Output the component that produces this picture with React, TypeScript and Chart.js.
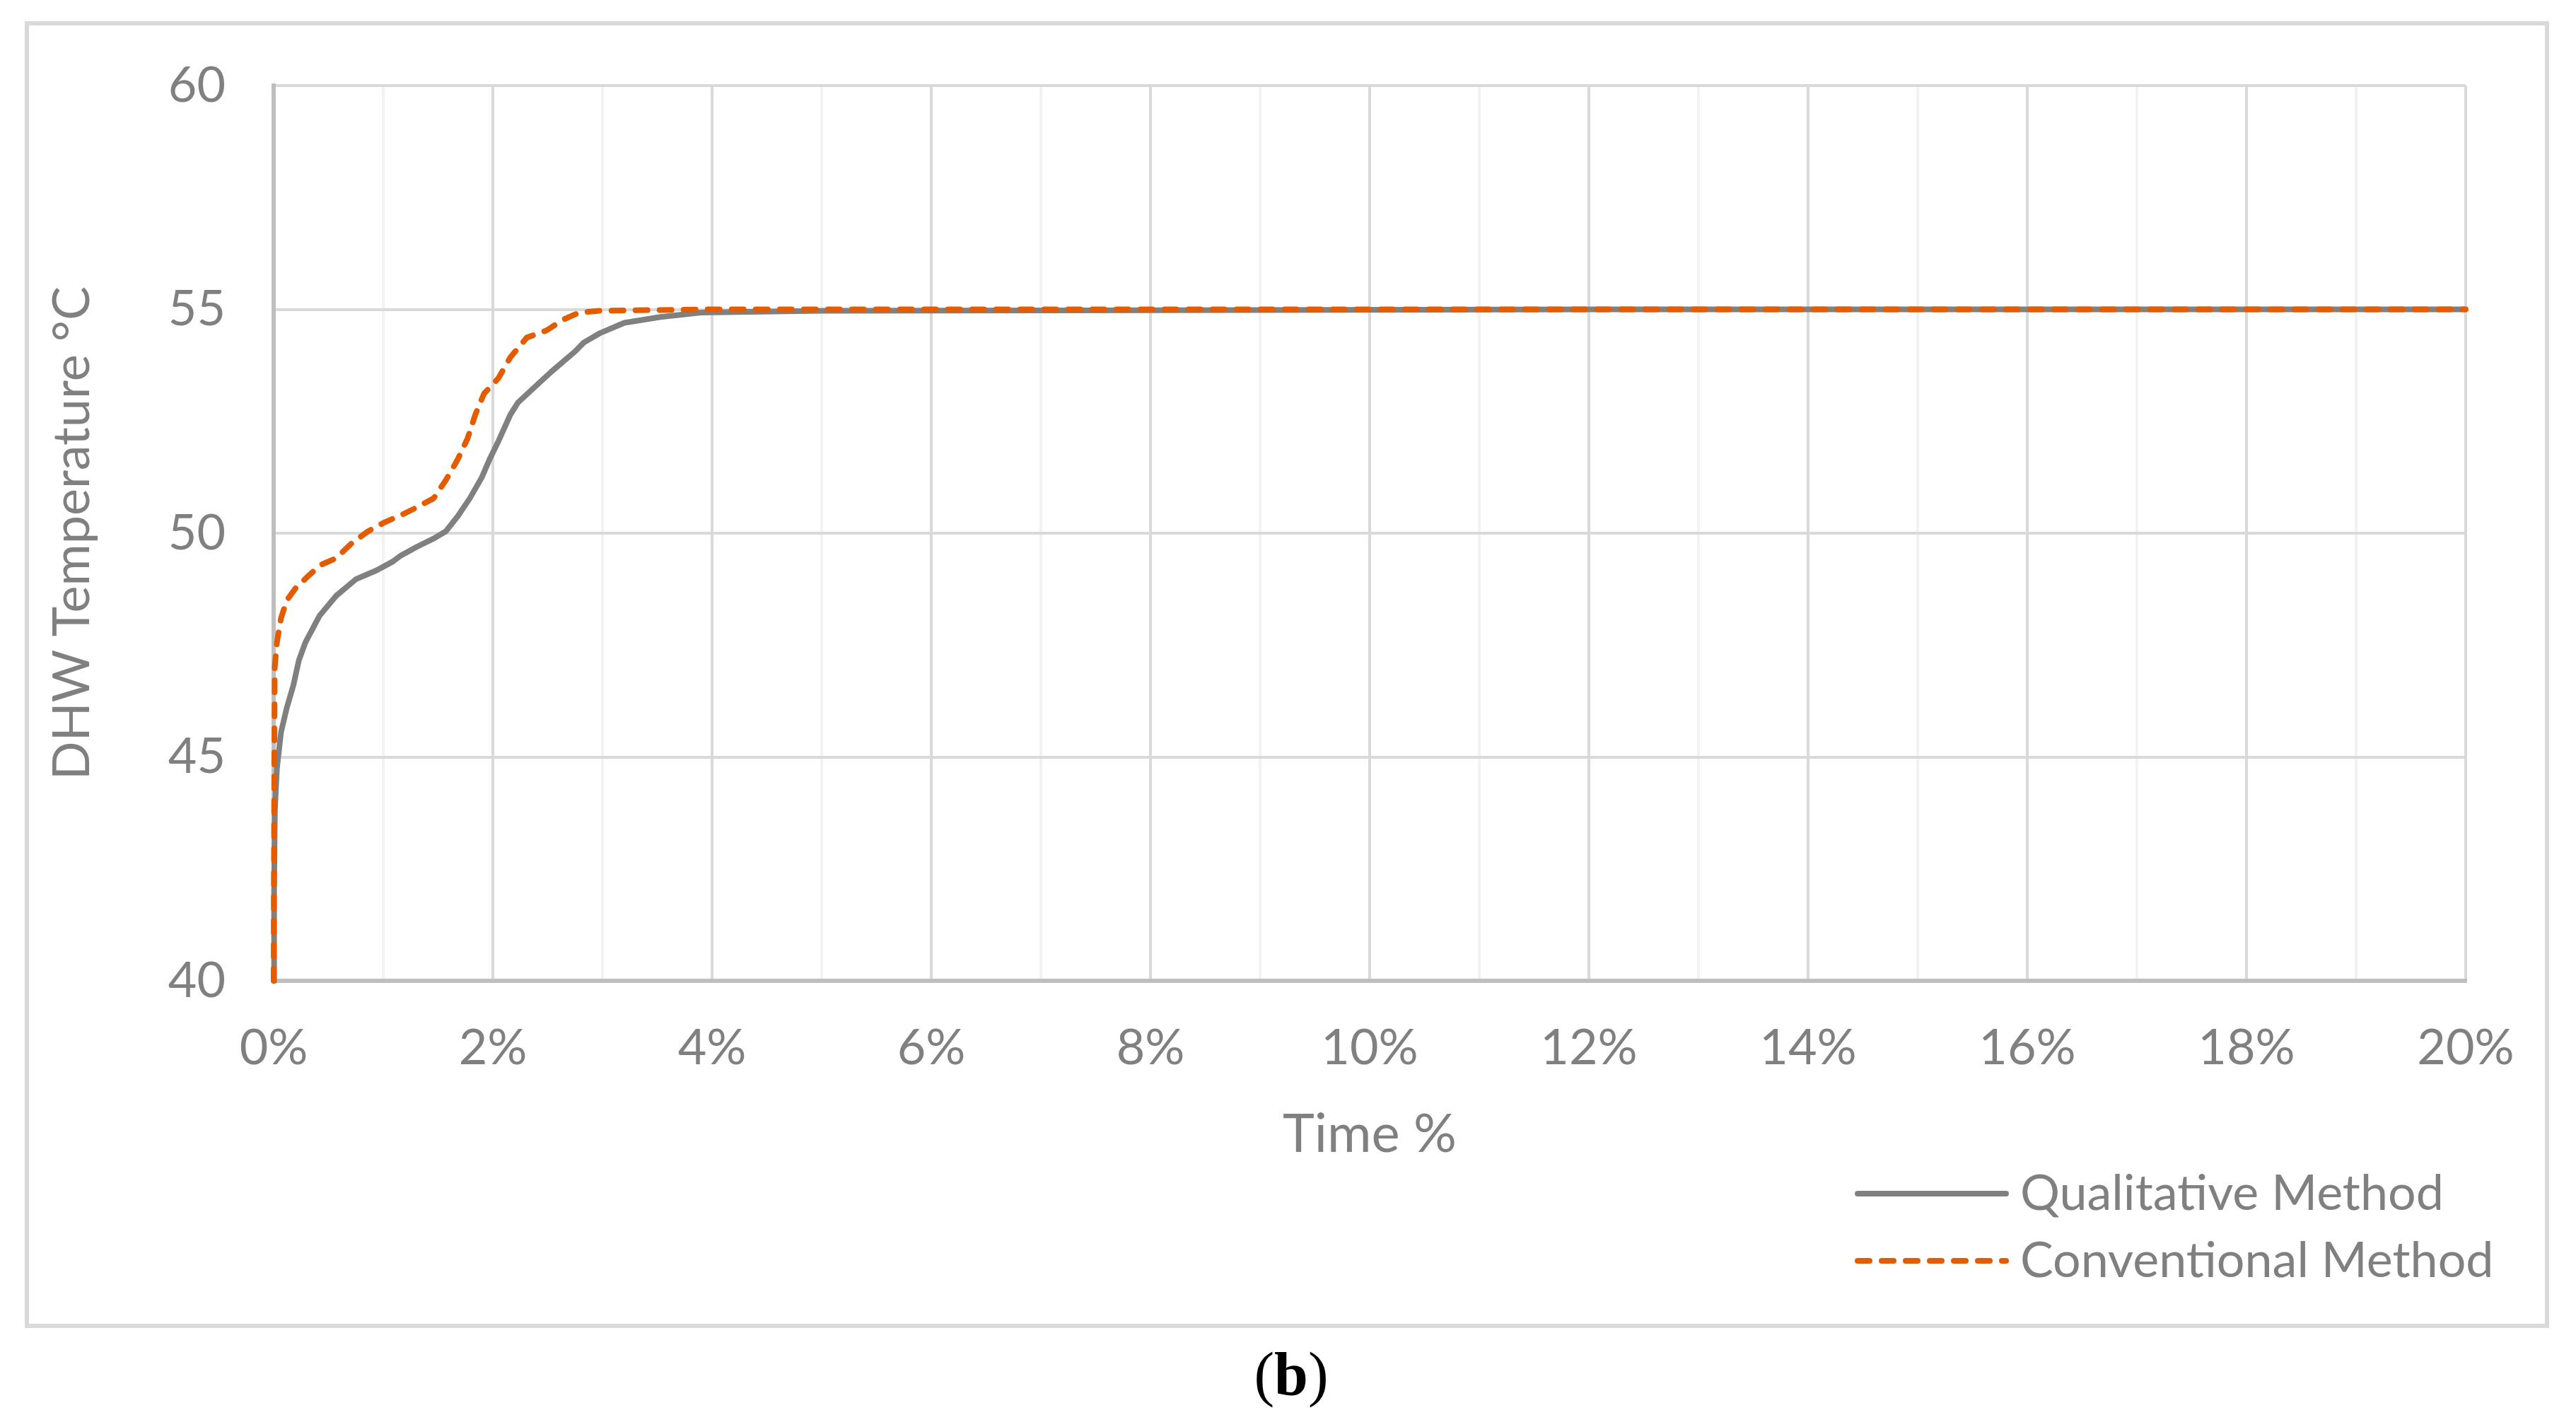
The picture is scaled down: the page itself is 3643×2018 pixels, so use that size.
import React, { useEffect, useRef } from "react";
import { Chart, registerables } from "chart.js";

Chart.register(...registerables);

const qualTime = [0, 0.004, 0.011, 0.03, 0.067, 0.12, 0.18, 0.23, 0.29, 0.42, 0.57, 0.75, 0.94, 1.09, 1.16, 1.31, 1.46, 1.57, 1.68, 1.79, 1.9, 1.97, 2.05, 2.16, 2.23, 2.38, 2.53, 2.75, 2.83, 2.97, 3.2, 3.53, 3.9, 5, 8, 12, 16, 20];
const qualTemp = [40, 42.0, 43.8, 44.75, 45.55, 46.1, 46.6, 47.16, 47.56, 48.16, 48.6, 48.97, 49.17, 49.37, 49.5, 49.7, 49.88, 50.04, 50.38, 50.78, 51.25, 51.65, 52.05, 52.65, 52.92, 53.26, 53.6, 54.06, 54.26, 54.46, 54.7, 54.83, 54.93, 54.97, 54.98, 55, 55, 55];

const convTime = [0, 0.002, 0.006, 0.01, 0.03, 0.067, 0.12, 0.2, 0.31, 0.42, 0.57, 0.71, 0.86, 1.01, 1.16, 1.31, 1.46, 1.57, 1.68, 1.77, 1.84, 1.92, 2.05, 2.16, 2.31, 2.49, 2.64, 2.79, 2.97, 4, 8, 12, 16, 20];
const convTemp = [40, 42, 45, 47.0, 47.56, 48.1, 48.5, 48.77, 49.03, 49.28, 49.44, 49.77, 50.04, 50.24, 50.4, 50.58, 50.78, 51.18, 51.65, 52.12, 52.65, 53.12, 53.46, 53.93, 54.37, 54.53, 54.77, 54.93, 54.97, 55, 55, 55, 55, 55];

const seriesNames = ["Qualitative Method", "Conventional Method"];
const xTitle = "Time %";
const yTitle = "DHW Temperature \u00B0C";
const panelLabel = ["(", "b", ")"];

const W = 3643;
const H = 2018;
const GRAY = "#808080";
const ORANGE = "#e35c00";
const FONT = "Lato, 'Open Sans', sans-serif";

const extrasPlugin = {
  id: "extras",
  afterDraw(chart: any) {
    const ctx = chart.ctx;
    ctx.save();
    // outer border
    ctx.strokeStyle = "#d9d9d9";
    ctx.lineWidth = 6;
    ctx.strokeRect(38, 33, 3602 - 38, 1875 - 33);

    // legend
    const rows = [
      { name: seriesNames[0], color: GRAY, dash: [] as number[], y: 1688, base: 1711 },
      { name: seriesNames[1], color: ORANGE, dash: [17, 17], y: 1783, base: 1806 },
    ];
    for (const r of rows) {
      ctx.beginPath();
      ctx.strokeStyle = r.color;
      ctx.lineWidth = 8;
      ctx.lineCap = "round";
      ctx.setLineDash(r.dash);
      ctx.moveTo(2627, r.y);
      ctx.lineTo(2837, r.y);
      ctx.stroke();
      ctx.setLineDash([]);
      ctx.fillStyle = GRAY;
      ctx.font = `70px ${FONT}`;
      ctx.textAlign = "left";
      ctx.textBaseline = "alphabetic";
      ctx.fillText(r.name, 2857, r.base);
    }

    // panel label (b)
    const fN = "86px 'Liberation Serif', 'Times New Roman', serif";
    const fB = "bold 86px 'Liberation Serif', 'Times New Roman', serif";
    ctx.fillStyle = "#000000";
    ctx.font = fN;
    const w1 = ctx.measureText(panelLabel[0]).width;
    const w3 = ctx.measureText(panelLabel[2]).width;
    ctx.font = fB;
    const w2 = ctx.measureText(panelLabel[1]).width;
    let x = 1826 - (w1 + w2 + w3) / 2;
    const by = 1972;
    ctx.font = fN;
    ctx.fillText(panelLabel[0], x, by);
    x += w1;
    ctx.font = fB;
    ctx.fillText(panelLabel[1], x, by);
    x += w2;
    ctx.font = fN;
    ctx.fillText(panelLabel[2], x, by);
    ctx.restore();
  },
};

export default function App() {
  const ref = useRef<HTMLCanvasElement>(null);
  useEffect(() => {
    if (!ref.current) return;
    const chart = new Chart(ref.current, {
      type: "line",
      data: {
        datasets: [
          {
            label: seriesNames[1],
            data: convTime.map((t, i) => ({ x: t, y: convTemp[i] })),
            borderColor: ORANGE,
            borderWidth: 8,
            borderDash: [17, 17],
            borderCapStyle: "round",
            borderJoinStyle: "round",
            pointRadius: 0,
            tension: 0,
            clip: false,
            order: 0,
          },
          {
            label: seriesNames[0],
            data: qualTime.map((t, i) => ({ x: t, y: qualTemp[i] })),
            borderColor: GRAY,
            borderWidth: 8,
            borderJoinStyle: "round",
            pointRadius: 0,
            tension: 0,
            clip: false,
            order: 1,
          },
        ],
      },
      options: {
        responsive: false,
        animation: false,
        devicePixelRatio: 1,
        layout: { padding: { left: 0, top: 121, right: 156, bottom: 331 } },
        plugins: { legend: { display: false }, tooltip: { enabled: false } },
        scales: {
          x: {
            type: "linear",
            min: 0,
            max: 20,
            afterFit: (s: any) => {
              s.height = 300;
            },
            ticks: {
              stepSize: 1,
              autoSkip: false,
              maxRotation: 0,
              padding: 53,
              color: GRAY,
              font: { family: FONT, size: 70 },
              callback: (v: any) => (Number(v) % 2 === 0 ? `${v}%` : ""),
            },
            grid: {
              lineWidth: 4,
              drawTicks: false,
              color: (c: any) => (c.tick && Number(c.tick.value) % 2 === 0 ? "#d9d9d9" : "#f2f2f2"),
            },
            border: { color: "#bfbfbf", width: 6 },
            title: {
              display: true,
              text: xTitle,
              color: GRAY,
              font: { family: FONT, size: 76 },
              padding: { top: 0, bottom: 37 },
            },
          },
          y: {
            type: "linear",
            min: 40,
            max: 60,
            afterFit: (s: any) => {
              s.width = 387;
            },
            ticks: {
              stepSize: 5,
              padding: 68,
              color: GRAY,
              font: { family: FONT, size: 70 },
            },
            grid: { lineWidth: 4, drawTicks: false, color: "#d9d9d9" },
            border: { color: "#bfbfbf", width: 6 },
            title: {
              display: true,
              text: yTitle,
              color: GRAY,
              font: { family: FONT, size: 72 },
              padding: { top: 60, bottom: 0 },
            },
          },
        },
      },
      plugins: [extrasPlugin],
    } as any);
    return () => chart.destroy();
  }, []);
  return (
    <div style={{ position: "absolute", left: 0, top: 0, width: W, height: H, background: "#fff" }}>
      <canvas ref={ref} width={W} height={H} style={{ width: W, height: H, display: "block" }} />
    </div>
  );
}
